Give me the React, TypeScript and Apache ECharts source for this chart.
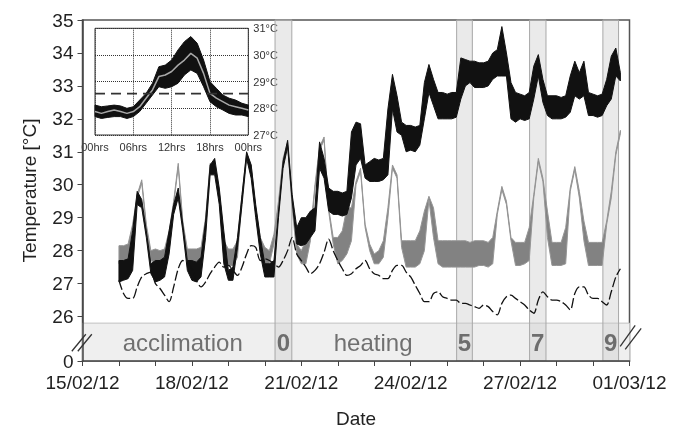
import React, { useEffect, useRef } from "react";
import * as echarts from "echarts";

// ---------- DATA ----------
// Main chart: x = days since 15/02/12 00:00, samples every 3 hours from 16/02/12 00:00
const START_DAY = 1;
const STEP_DAYS = 0.125;

// Heated treatment (black noisy trace): upper / lower envelope, °C
const heatedHi = [
  27.7, 27.7, 27.75, 28.6, 29.8, 29.55, 28.6, 27.6,
  27.7, 27.7, 27.8, 28.6, 29.4, 29.9, 28.8, 27.7,
  27.7, 27.65, 27.8, 28.9, 30.6, 30.8, 29.9, 28.6,
  27.4, 27.5, 28.4, 29.7, 31.0, 30.6, 29.4, 28.4,
  27.6, 27.6, 27.7, 29.2, 30.7, 31.35, 29.7, 28.7,
  29.0, 29.0, 29.2, 29.3, 31.3, 30.8, 29.9, 29.8,
  29.8, 29.75, 29.8, 31.6, 31.9, 31.85, 30.6, 30.7,
  30.8, 30.75, 30.8, 32.3, 33.35, 32.7, 31.9, 31.8,
  31.8, 31.75, 31.8, 33.1, 33.65, 33.2, 32.8, 32.8,
  32.75, 32.8, 32.8, 33.85, 33.8, 33.75, 33.75, 33.7,
  33.7, 33.75, 34.0, 34.1, 34.8, 34.0, 33.1, 32.8,
  32.75, 32.7, 32.8, 33.6, 33.95, 33.2, 32.7, 32.7,
  32.7, 32.65, 32.7, 33.3, 33.75, 33.4, 33.75, 32.8,
  32.75, 32.7, 32.75, 33.2, 33.9, 34.15, 33.4,
];
const heatedLo = [
  27.05, 27.1, 27.15, 27.4, 29.4, 29.3, 28.4, 27.3,
  27.05, 27.1, 27.2, 27.9, 29.1, 29.6, 28.6, 27.4,
  27.1, 27.05, 27.2, 28.4, 30.3, 30.3, 29.4, 27.6,
  27.1, 27.1, 28.1, 29.4, 30.8, 30.2, 29.0, 27.9,
  27.2, 27.2, 27.2, 29.0, 30.5, 31.15, 29.5, 28.2,
  28.15, 28.2, 28.4, 28.6, 30.5, 30.2, 29.2, 29.1,
  29.1, 29.05, 29.1, 29.6, 30.6, 30.8, 30.2, 30.1,
  30.1, 30.1, 30.15, 30.3, 32.3, 31.6, 31.5, 31.0,
  31.05, 31.0, 31.2, 32.0, 32.8, 32.4, 32.0, 32.0,
  32.0, 32.0, 32.05, 32.6, 33.0, 33.1, 32.95, 32.95,
  32.95, 33.0, 33.2, 33.3, 33.3, 33.3, 32.0, 31.9,
  32.0, 31.95, 32.0, 32.6, 33.3, 32.5, 32.1, 32.0,
  32.0, 32.0, 32.05, 32.2, 32.7, 32.6, 32.7, 32.1,
  32.1, 32.05, 32.1, 32.4, 32.6, 33.3, 33.15,
];

// Control treatment (grey noisy trace): upper / lower envelope, °C
const controlHi = [
  28.15, 28.15, 28.2, 28.8, 29.7, 30.15, 28.8, 28.0,
  28.05, 28.0, 28.05, 28.6, 29.5, 30.65, 28.9, 28.05,
  28.05, 28.05, 28.1, 29.0, 30.65, 30.6, 29.8, 28.3,
  28.05, 28.05, 28.3, 29.7, 30.95, 30.6, 29.3, 28.4,
  28.1, 28.0, 28.5, 29.5, 30.8, 31.3, 29.4, 28.2,
  28.0, 28.3, 28.6, 30.0, 31.15, 31.45, 29.3, 28.4,
  28.4, 28.6, 29.3, 29.3, 30.1, 30.5, 28.8, 28.2,
  27.9, 28.0, 28.3, 29.3, 30.6, 30.3, 28.3, 28.3,
  28.3, 28.3, 28.6, 29.2, 29.65, 29.3, 28.3, 28.3,
  28.3, 28.3, 28.3, 28.3, 28.3, 28.25, 28.3, 28.3,
  28.3, 28.25, 28.4, 29.2, 29.95, 29.5, 28.4, 28.25,
  28.25, 28.25, 28.7, 29.7, 30.8, 30.2, 29.2, 28.25,
  28.25, 28.25, 28.7, 29.9, 30.55, 29.8, 28.9, 28.25,
  28.25, 28.25, 28.25, 28.9, 29.8, 31.0, 31.65,
];
const controlLo = [
  27.6, 27.6, 27.65, 28.7, 29.6, 30.05, 28.7, 27.7,
  27.6, 27.6, 27.65, 28.5, 29.4, 30.55, 28.8, 27.7,
  27.6, 27.6, 27.7, 28.9, 30.55, 30.5, 29.7, 27.8,
  27.55, 27.55, 27.8, 29.6, 30.85, 30.5, 29.2, 28.1,
  27.55, 27.6, 28.2, 29.4, 30.7, 31.2, 29.3, 27.9,
  27.6, 27.6, 28.3, 29.9, 31.05, 31.35, 29.2, 28.2,
  27.6, 27.7, 27.9, 28.3, 30.0, 30.4, 28.7, 28.0,
  27.6, 27.6, 27.8, 29.0, 30.5, 30.2, 28.1, 27.5,
  27.5, 27.5, 27.6, 28.0, 29.55, 28.4, 27.6, 27.5,
  27.5, 27.5, 27.5, 27.5, 27.5, 27.5, 27.5, 27.55,
  27.55, 27.5, 27.6, 29.1, 29.85, 29.4, 28.3, 27.55,
  27.55, 27.6, 27.7, 29.6, 30.7, 30.1, 28.4, 27.55,
  27.55, 27.55, 27.6, 29.8, 30.45, 29.6, 28.3, 27.55,
  27.55, 27.55, 27.55, 28.8, 29.6, 30.9, 31.55,
];

// Ambient (dashed), °C
const ambient = [
  27.1, 26.7, 26.55, 26.55, 26.9, 27.2, 27.3, 27.35,
  27.0, 26.85, 26.65, 26.45, 26.9, 27.45, 27.7, 27.6,
  27.45, 27.1, 26.9, 27.05, 27.3, 27.5, 27.65, 27.5,
  27.55, 27.4, 27.25, 27.5, 27.9, 28.15, 28.1, 27.7,
  27.75, 27.7, 27.6, 27.5, 27.7, 28.0, 28.4, 27.9,
  27.7, 27.5, 27.3, 27.4, 27.6, 27.95, 28.35, 28.0,
  27.7, 27.45, 27.25, 27.3, 27.45, 27.55, 27.7, 27.45,
  27.3, 27.25, 27.15, 27.15, 27.4, 27.55, 27.55, 27.35,
  27.2, 26.95, 26.7, 26.45, 26.45, 26.7, 26.75, 26.6,
  26.55, 26.5, 26.5, 26.4, 26.4, 26.35, 26.3, 26.25,
  26.35, 26.3, 26.15, 26.05, 26.4, 26.6, 26.65, 26.55,
  26.45, 26.35, 26.2, 26.1, 26.5, 26.75, 26.6, 26.5,
  26.5, 26.45, 26.35, 26.2, 26.7, 26.9, 26.9, 26.65,
  26.55, 26.55, 26.45, 26.35, 26.75, 27.2, 27.45,
];

const dateTicks = ["15/02/12", "18/02/12", "21/02/12", "24/02/12", "27/02/12", "01/03/12"];
const DATE_LABEL_EVERY = 3; // days
const X_MAX_DAYS = 15;
const yTicks = [26, 27, 28, 29, 30, 31, 32, 33, 34, 35];
const breakLabel = "0";

const samplingBands = [
  { label: "0", start: 5.28, end: 5.74 },
  { label: "5", start: 10.26, end: 10.69 },
  { label: "7", start: 12.26, end: 12.71 },
  { label: "9", start: 14.27, end: 14.7 },
];
const phaseLabels = [
  { text: "acclimation", day: 2.75 },
  { text: "heating", day: 7.97 },
];

// Inset: mean daily cycle, hourly
const insetHours = [0, 1, 2, 3, 4, 5, 6, 7, 8, 9, 10, 11, 12, 13, 14, 15, 16, 17, 18, 19, 20, 21, 22, 23, 24];
const insetHi = [28.12, 28.06, 28.09, 28.12, 28.09, 28.0, 28.06, 28.31, 28.56, 28.94, 29.56, 29.62, 29.81, 30.19, 30.5, 30.69, 30.44, 29.81, 29.0, 28.75, 28.5, 28.38, 28.31, 28.19, 28.12];
const insetLo = [27.69, 27.62, 27.66, 27.69, 27.69, 27.62, 27.69, 27.88, 28.19, 28.5, 28.81, 28.75, 28.81, 28.94, 29.25, 29.44, 29.31, 28.81, 28.25, 28.06, 27.94, 27.81, 27.75, 27.75, 27.69];
const insetMean = [27.88, 27.81, 27.88, 27.94, 27.88, 27.81, 27.88, 28.06, 28.38, 28.69, 29.19, 29.25, 29.38, 29.62, 29.81, 30.06, 29.88, 29.31, 28.56, 28.38, 28.25, 28.12, 28.06, 28.0, 27.94];
const insetReference = 28.55;

// ---------- LAYOUT ----------
const BREAK_MIN = 24.65; // bottom of broken y axis (labelled "0")
const BAND_TOP = 25.8;
const LABEL_Y = 25.2;
const FONT = "'Liberation Sans', Arial, sans-serif";

function bandSeries(hi: number[], lo: number[], xs: number[], fill: string, stroke: string, axis: number, z: number) {
  return {
    type: "custom",
    xAxisIndex: axis,
    yAxisIndex: axis,
    z,
    silent: true,
    data: xs.map((x, i) => [x, lo[i], hi[i]]),
    encode: { x: 0, y: [1, 2] },
    renderItem: (params: any, api: any) => {
      if (params.dataIndex !== 0) return null;
      const pts: number[][] = [];
      for (let i = 0; i < xs.length; i++) pts.push(api.coord([xs[i], hi[i]]));
      for (let i = xs.length - 1; i >= 0; i--) pts.push(api.coord([xs[i], lo[i]]));
      return {
        type: "polygon",
        shape: { points: pts },
        style: { fill, stroke, lineWidth: 1, lineJoin: "round" },
      };
    },
  };
}

export default function App() {
  const ref = useRef<HTMLDivElement>(null);

  useEffect(() => {
    if (!ref.current) return;
    const chart = echarts.init(ref.current, null, { renderer: "svg" });
    const times = heatedHi.map((_, i) => START_DAY + i * STEP_DAYS);
    const yVals = [BREAK_MIN, ...yTicks];

    const option: any = {
      animation: false,
      textStyle: { fontFamily: FONT },
      grid: [
        { left: 82.5, right: 47.5, top: 20, bottom: 68, show: true, borderColor: "#555", borderWidth: 1.5, backgroundColor: "transparent" },
        { left: 95, top: 28.3, width: 153.3, height: 106.7, show: true, borderColor: "#333", borderWidth: 1, backgroundColor: "#fff" },
      ],
      xAxis: [
        {
          gridIndex: 0, type: "value", min: 0, max: X_MAX_DAYS, interval: 1, z: 10,
          name: "Date", nameLocation: "middle", nameGap: 48,
          nameTextStyle: { fontSize: 19, color: "#222", fontFamily: FONT },
          axisLine: { lineStyle: { color: "#444", width: 1.5 } },
          axisTick: { length: 5, lineStyle: { color: "#444" } },
          axisLabel: {
            fontSize: 19, color: "#222", margin: 12, fontFamily: FONT,
            formatter: (v: number) => (v % DATE_LABEL_EVERY === 0 ? dateTicks[v / DATE_LABEL_EVERY] : ""),
          },
          splitLine: { show: false },
        },
        {
          gridIndex: 1, type: "value", min: 0, max: 24, interval: 6,
          axisLine: { show: false }, axisTick: { show: false },
          axisLabel: {
            fontSize: 11, color: "#333", margin: 6, fontFamily: FONT,
            formatter: (v: number) => String(v % 24).padStart(2, "0") + "hrs",
          },
          splitLine: { show: true, lineStyle: { color: "#333", type: "dotted", width: 1 } },
        },
      ],
      yAxis: [
        {
          gridIndex: 0, type: "value", min: BREAK_MIN, max: 35, z: 10,
          name: "Temperature [°C]", nameLocation: "middle", nameGap: 44,
          nameTextStyle: { fontSize: 19, color: "#222", fontFamily: FONT },
          axisLine: { show: true, lineStyle: { color: "#444", width: 1.5 } },
          axisTick: { show: true, length: 5, customValues: yVals, lineStyle: { color: "#444" } },
          axisLabel: {
            customValues: yVals, fontSize: 19, color: "#222", margin: 9, fontFamily: FONT,
            formatter: (v: number) => (v < yTicks[0] - 0.5 ? breakLabel : String(Math.round(v))),
          },
          splitLine: { show: false },
        },
        {
          gridIndex: 1, type: "value", min: 27, max: 31, interval: 1, position: "right",
          axisLine: { show: false }, axisTick: { show: false },
          axisLabel: { fontSize: 11, color: "#333", margin: 5, fontFamily: FONT, formatter: "{value}°C" },
          splitLine: { show: true, lineStyle: { color: "#333", type: "dotted", width: 1 } },
        },
      ],
      series: [
        bandSeries(controlHi, controlLo, times, "#828282", "#959595", 0, 2),
        bandSeries(heatedHi, heatedLo, times, "#111", "#111", 0, 3),
        {
          type: "line", xAxisIndex: 0, yAxisIndex: 0, z: 4, silent: true,
          data: ambient.map((v, i) => [times[i], v]),
          showSymbol: false, symbol: "none", smooth: 0.3,
          lineStyle: { color: "#111", width: 1.3, type: [10, 3] },
        },
        {
          type: "line", xAxisIndex: 0, yAxisIndex: 0, z: 5, silent: true, data: [],
          markArea: {
            silent: true,
            data: [
              [
                { xAxis: 0, yAxis: BREAK_MIN, itemStyle: { color: "#efefef", borderColor: "#c2c2c2", borderWidth: 1 } },
                { xAxis: X_MAX_DAYS, yAxis: BAND_TOP },
              ],
              ...samplingBands.map((b) => [
                { xAxis: b.start, yAxis: BREAK_MIN, itemStyle: { color: "rgba(205,205,205,0.42)", borderColor: "#a8a8a8", borderWidth: 1 } },
                { xAxis: b.end, yAxis: 35 },
              ]),
            ],
          },
        },
        {
          type: "scatter", xAxisIndex: 0, yAxisIndex: 0, z: 12, silent: true, symbolSize: 0,
          label: { show: true, position: "inside", fontSize: 24, color: "#505050", fontFamily: FONT },
          data: [
            ...phaseLabels.map((p) => ({ value: [p.day, LABEL_Y], label: { formatter: p.text } })),
            ...samplingBands.map((b) => ({ value: [(b.start + b.end) / 2, LABEL_Y], label: { formatter: b.label, fontWeight: "bold" } })),
          ],
        },
        bandSeries(insetHi, insetLo, insetHours, "#111", "#111", 1, 3),
        {
          type: "line", xAxisIndex: 1, yAxisIndex: 1, z: 4, silent: true,
          data: insetMean.map((v, i) => [insetHours[i], v]),
          symbol: "none", lineStyle: { color: "#a8a8a8", width: 1.5 },
        },
        {
          type: "line", xAxisIndex: 1, yAxisIndex: 1, z: 5, silent: true,
          data: [[insetHours[0], insetReference], [insetHours[insetHours.length - 1], insetReference]],
          symbol: "none", lineStyle: { color: "#333", width: 1.8, type: [10, 6] },
        },
      ],
    };
    chart.setOption(option);

    const pL = chart.convertToPixel({ gridIndex: 0 }, [0, LABEL_Y]) as number[];
    const pR = chart.convertToPixel({ gridIndex: 0 }, [X_MAX_DAYS, 25.4]) as number[];
    const brk = (p: number[], segs: number[][]) =>
      segs.map((s) => ({
        type: "line", z: 100, silent: true,
        shape: { x1: p[0] + s[0], y1: p[1] + s[1], x2: p[0] + s[2], y2: p[1] + s[3] },
        style: { stroke: "#333", lineWidth: 1.3 },
      }));
    chart.setOption({
      graphic: [
        ...brk(pL, [[-10.7, 8.4, 3.3, -8.6], [-4.7, 8.4, 9.3, -8.6]]),
        ...brk(pR, [[-9.3, 10, 5.7, -11], [-4.3, 13, 11.7, -8]]),
      ],
    });

    return () => chart.dispose();
  }, []);

  return <div ref={ref} style={{ position: "fixed", left: 0, top: 0, width: 677, height: 433 }} />;
}
